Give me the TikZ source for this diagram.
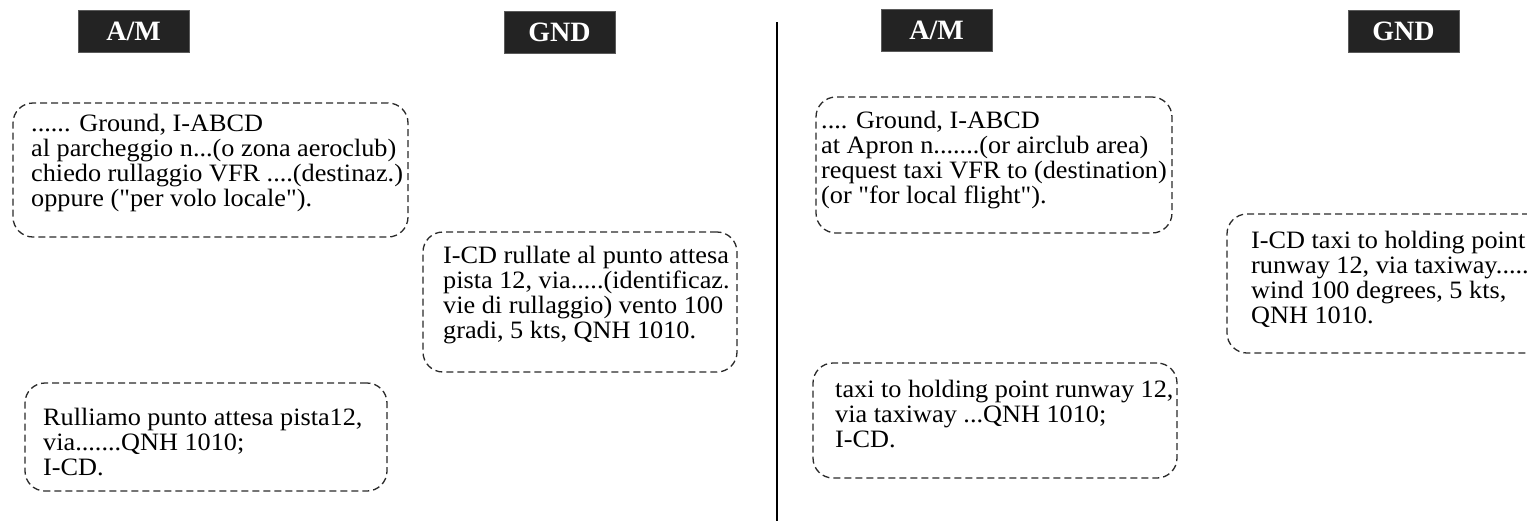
\documentclass[tikz,border=0pt]{standalone}
\usepackage{fontspec}
\setmainfont{Liberation Serif}
\newfontfamily\msgfamily[FakeStretch=1.05]{Liberation Serif}
\newfontfamily\hdrfamily{Liberation Serif}
\newcommand{\msgfont}{\msgfamily\fontsize{25}{25}\selectfont}
\newcommand{\hdrfont}{\hdrfamily\bfseries\fontsize{28}{30}\selectfont}
\definecolor{hdrfill}{HTML}{232323}
\definecolor{hdrline}{HTML}{5A5A5A}
\definecolor{dashgray}{HTML}{2A2A2A}
\tikzset{
  hdr/.style={draw=hdrline, line width=0.8pt, fill=hdrfill, text=white, font=\hdrfont,
              minimum width=111, minimum height=42, inner sep=0},
  msgbox/.style={draw=dashgray, line width=1.3pt, dash pattern=on 7pt off 4pt,
                 rounded corners=20pt, inner sep=0},
  msgtext/.style={anchor=base west, inner sep=0, font=\msgfont},
}
\begin{document}
\begin{tikzpicture}[x=1pt, y=-1pt]
\useasboundingbox (0,0) rectangle (1527,523);
\clip (0,0) rectangle (1527,523);
\fill[white] (0,0) rectangle (1527,523);

% headers
\node[hdr] (h1) at (133.5,31) {A/M};
\node[hdr] (h2) at (559.5,32) {GND};
\node[hdr] (h3) at (936.5,30) {A/M};
\node[hdr] (h4) at (1403.5,31) {GND};

% divider
\coordinate (dtop) at (777,22);
\coordinate (dbot) at (777,521);
\draw[line width=2pt] (dtop) -- (dbot);

% left half
\node[msgbox, minimum width=395, minimum height=134] (b1) at (210.5,170) {};
\node[msgtext] (t1) at (31,131) {\begin{tabular}[t]{@{}l@{}}
...... Ground, I-ABCD\\
al parcheggio n...(o zona aeroclub)\\
chiedo rullaggio VFR ....(destinaz.)\\
oppure ("per volo locale").
\end{tabular}};

\node[msgbox, minimum width=314, minimum height=140] (b2) at (580,302) {};
\node[msgtext] (t2) at (443,263) {\begin{tabular}[t]{@{}l@{}}
I-CD rullate al punto attesa\\
pista 12, via.....(identificaz.\\
vie di rullaggio) vento 100\\
gradi, 5 kts, QNH 1010.
\end{tabular}};

\node[msgbox, minimum width=362, minimum height=108] (b3) at (206,437) {};
\node[msgtext] (t3) at (43,425) {\begin{tabular}[t]{@{}l@{}}
Rulliamo punto attesa pista12,\\
via.......QNH 1010;\\
I-CD.
\end{tabular}};

% right half
\node[msgbox, minimum width=356, minimum height=136] (b4) at (994,165) {};
\node[msgtext] (t4) at (821,128) {\begin{tabular}[t]{@{}l@{}}
.... Ground, I-ABCD\\
at Apron n.......(or airclub area)\\
request taxi VFR to (destination)\\
(or "for local flight").
\end{tabular}};

\node[msgbox, minimum width=333, minimum height=139] (b5) at (1393.5,283.5) {};
\node[msgtext] (t5) at (1251,248) {\begin{tabular}[t]{@{}l@{}}
I-CD taxi to holding point\\
runway 12, via taxiway.....\\
wind 100 degrees, 5 kts,\\
QNH 1010.
\end{tabular}};

\node[msgbox, minimum width=364, minimum height=115] (b6) at (995,420.5) {};
\node[msgtext] (t6) at (835,397) {\begin{tabular}[t]{@{}l@{}}
taxi to holding point runway 12,\\
via taxiway ...QNH 1010;\\
I-CD.
\end{tabular}};
\end{tikzpicture}
\end{document}
